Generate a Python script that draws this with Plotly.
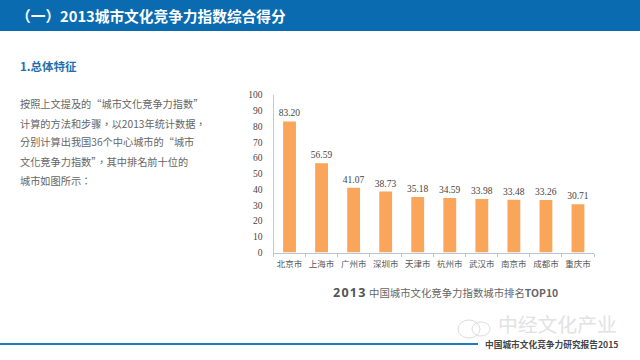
import plotly.graph_objects as go

cities = ["北京市", "上海市", "广州市", "深圳市", "天津市", "杭州市", "武汉市", "南京市", "成都市", "重庆市"]
scores = [83.20, 56.59, 41.07, 38.73, 35.18, 34.59, 33.98, 33.48, 33.26, 30.71]
score_labels = ["83.20", "56.59", "41.07", "38.73", "35.18", "34.59", "33.98", "33.48", "33.26", "30.71"]
y_ticks = [0, 10, 20, 30, 40, 50, 60, 70, 80, 90, 100]
body_lines = [
    "按照上文提及的“城市文化竞争力指数”",
    "计算的方法和步骤，以2013年统计数据，",
    "分别计算出我国36个中心城市的“城市",
    "文化竞争力指数”，其中排名前十位的",
    "城市如图所示：",
]
body_y = [104, 123, 142, 161, 180]

CJK = "Noto Sans CJK SC"
CJK_TC = "Noto Sans CJK TC"
SERIF = "Liberation Serif"
W, H = 640, 360
L, R, T, B = 273.5, 594, 95, 252.5

fig = go.Figure(go.Bar(
    x=cities, y=scores, text=score_labels, textposition="outside", cliponaxis=False,
    constraintext="none", marker=dict(color="#F9A65A", line=dict(width=0)), width=0.4,
    textfont=dict(family=SERIF, size=9.5, color="#444444"),
))


def txt(x, y, s, size, color, bold=False, anchor="left", family=CJK):
    if bold:
        s = f"<b>{s}</b>"
    fig.add_annotation(x=x / W, y=1 - y / H, xref="paper", yref="paper", text=s, showarrow=False,
                       xanchor=anchor, yanchor="middle", align="left", borderpad=0,
                       font=dict(family=family, size=size, color=color))


fig.update_layout(
    template="none",
    width=W, height=H, autosize=False, showlegend=False, plot_bgcolor="white", paper_bgcolor="white",
    xaxis=dict(domain=[L / W, R / W], automargin=False, tickangle=0, showline=True, linecolor="#B5C4D6",
               linewidth=1, ticks="outside", ticklen=3, tickcolor="#B5C4D6", tickson="boundaries",
               ticklabelstandoff=3, showgrid=False, tickfont=dict(family=CJK, size=8.5, color="#555555")),
    yaxis=dict(domain=[1 - B / H, 1 - T / H], automargin=False, range=[0, 100], tickvals=y_ticks, showline=True,
               linecolor="#C8C8C8", linewidth=1, showgrid=False, ticks="", zeroline=False,
               ticklabelstandoff=8, tickfont=dict(family=SERIF, size=9.5, color="#444444")),
    margin=dict(l=0, r=0, t=0, b=0, pad=0),
    shapes=[
        dict(type="rect", xref="paper", yref="paper", x0=0, x1=1, y0=1 - 31 / H, y1=1,
             fillcolor="#0B6BB0", line=dict(width=0), layer="below"),
        dict(type="line", xref="paper", yref="paper", x0=0, x1=478 / W, y0=1 - 344 / H, y1=1 - 344 / H,
             line=dict(color="#1F7DB8", width=2)),
        dict(type="circle", xref="paper", yref="paper", x0=458 / W, x1=480 / W, y0=1 - 338 / H, y1=1 - 320 / H,
             line=dict(color="#DDDDDD", width=1)),
        dict(type="circle", xref="paper", yref="paper", x0=472 / W, x1=490 / W, y0=1 - 336 / H, y1=1 - 322 / H,
             line=dict(color="#DDDDDD", width=1)),
    ],
)

txt(15, 16, "（一）2013城市文化竞争力指数综合得分", 14.7, "#FFFFFF", bold=True)
txt(19, 66, "1.总体特征", 11.5, "#1F6FAE", bold=True)
for yy, line in zip(body_y, body_lines):
    txt(19, yy, line, 10.2, "#666666", family=CJK_TC)
txt(332, 292, "<b>2\u200a0\u200a1\u200a3</b>", 12.5, "#555555", family="Open Sans")
txt(368, 292, "中国城市文化竞争力指数城市排名<b>TOP10</b>", 10.4, "#666666")
txt(497, 323.5, "中经文化产业", 19.8, "#E2E2E2")
txt(484, 344, "中国城市文化竞争力研究报告2015", 8.7, "#444444", bold=True)

fig.write_html("out.html", config=dict(displayModeBar=False), post_script="document.body.style.margin='0';")
